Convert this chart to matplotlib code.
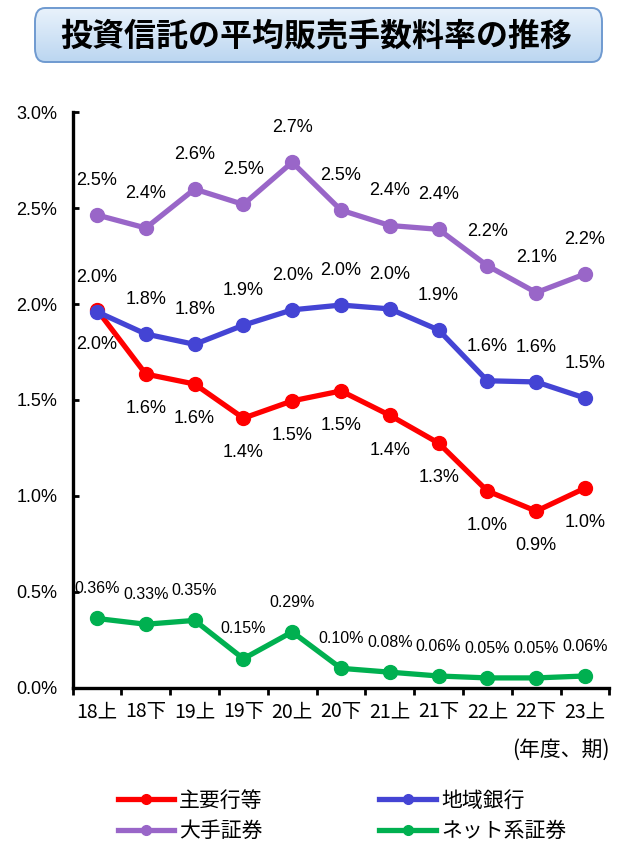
import matplotlib
matplotlib.use("Agg")
import matplotlib.pyplot as plt
from matplotlib.patches import FancyBboxPatch
from matplotlib.lines import Line2D
import numpy as np

plt.rcParams['font.family'] = ['Noto Sans CJK JP', 'DejaVu Sans']

periods = ["18上", "18下", "19上", "19下", "20上", "20下", "21上", "21下", "22上", "22下", "23上"]
major_banks = [1.97, 1.635, 1.583, 1.405, 1.495, 1.547, 1.42, 1.275, 1.025, 0.92, 1.04]
major_labels = ["2.0%", "1.6%", "1.6%", "1.4%", "1.5%", "1.5%", "1.4%", "1.3%", "1.0%", "0.9%", "1.0%"]
regional_banks = [1.96, 1.844, 1.79, 1.89, 1.97, 1.995, 1.975, 1.865, 1.60, 1.594, 1.51]
regional_labels = ["2.0%", "1.8%", "1.8%", "1.9%", "2.0%", "2.0%", "2.0%", "1.9%", "1.6%", "1.6%", "1.5%"]
big_securities = [2.465, 2.397, 2.60, 2.52, 2.74, 2.49, 2.41, 2.39, 2.20, 2.06, 2.157]
big_labels = ["2.5%", "2.4%", "2.6%", "2.5%", "2.7%", "2.5%", "2.4%", "2.4%", "2.2%", "2.1%", "2.2%"]
online_securities = [0.36, 0.33, 0.35, 0.15, 0.29, 0.10, 0.08, 0.06, 0.05, 0.05, 0.06]
online_labels = ["0.36%", "0.33%", "0.35%", "0.15%", "0.29%", "0.10%", "0.08%", "0.06%", "0.05%", "0.05%", "0.06%"]

yticks = [0.0, 0.5, 1.0, 1.5, 2.0, 2.5, 3.0]
ytick_labels = ["0.0%", "0.5%", "1.0%", "1.5%", "2.0%", "2.5%", "3.0%"]

c_red = "#FF0000"
c_blue = "#4444D4"
c_purple = "#9966C8"
c_green = "#00B050"

num_family = ["Liberation Sans Narrow", "Liberation Sans", "DejaVu Sans"]

W, H = 631, 847
fig = plt.figure(figsize=(W / 100, H / 100), dpi=100)

ax = fig.add_axes([72.6 / W, 1 - 687.5 / H, 536.8 / W, 575.1 / H])
x = np.arange(len(periods))

series = [
    (major_banks, c_red, "主要行等"),
    (regional_banks, c_blue, "地域銀行"),
    (big_securities, c_purple, "大手証券"),
    (online_securities, c_green, "ネット系証券"),
]
for vals, col, name in series:
    ax.plot(x, vals, color=col, lw=3.8, marker="o", ms=10, zorder=3, solid_capstyle="round")

ax.set_xlim(-0.5, len(periods) - 0.5)
ax.set_ylim(0, 3.0)

lab_kw = dict(ha="center", va="center", fontsize=13, color="black", family=num_family)
for i in range(len(periods)):
    ax.annotate(big_labels[i], (x[i], big_securities[i]), xytext=(0, 25), textcoords="offset points", **lab_kw)
    ax.annotate(regional_labels[i], (x[i], regional_banks[i]), xytext=(0, 25), textcoords="offset points", **lab_kw)
    ax.annotate(major_labels[i], (x[i], major_banks[i]), xytext=(0, -25), textcoords="offset points", **lab_kw)
    kw = dict(lab_kw)
    kw["fontsize"] = 11.5
    ax.annotate(online_labels[i], (x[i], online_securities[i]), xytext=(0, 21.5), textcoords="offset points", **kw)

for s in ["top", "right"]:
    ax.spines[s].set_visible(False)
ax.spines["left"].set_linewidth(2.4)
ax.spines["bottom"].set_linewidth(2.4)

ax.set_yticks(yticks)
ax.set_yticklabels(ytick_labels, family=num_family, fontsize=13)
ax.tick_params(axis="y", direction="in", length=4, width=2, pad=11)

ax.set_xticks(x)
ax.set_xticklabels(periods, fontsize=14)
ax.tick_params(axis="x", length=0, pad=10)
ax.set_xticks(np.arange(-0.5, len(periods) + 0.5, 1), minor=True)
ax.tick_params(axis="x", which="minor", direction="out", length=5, width=2)

fig.text(610 / W, 1 - 750 / H, "(年度、期)", ha="right", va="center", fontsize=15)

# Title box with vertical gradient
bx0, by0, bw, bh = 35 / W, 1 - 62 / H, (602 - 35) / W, (62 - 8) / H
tax = fig.add_axes([bx0 - 0.005, by0 - 0.005, bw + 0.01, bh + 0.01])
tax.set_axis_off()
rs = 0.016
tb = FancyBboxPatch((bx0, by0), bw, bh, boxstyle=f"round,pad=0,rounding_size={rs}",
                    transform=fig.transFigure, facecolor="none", edgecolor="#6F9AD0", lw=1.4, zorder=3)
grad = np.linspace(0, 1, 256).reshape(-1, 1)
top = np.array([0.93, 0.96, 0.99])
bot = np.array([0.72, 0.83, 0.94])
img = top[None, None, :] * (1 - grad[:, :, None]) + bot[None, None, :] * grad[:, :, None]
im = tax.imshow(img, aspect="auto", extent=[0, 1, 0, 1], transform=tax.transAxes, zorder=1)
clip = FancyBboxPatch((bx0, by0), bw, bh, boxstyle=f"round,pad=0,rounding_size={rs}",
                      transform=fig.transFigure, facecolor="none", edgecolor="none")
tax.add_artist(clip)
im.set_clip_path(clip)
fig.patches.append(tb)
fig.text(316 / W, 1 - 37 / H, "投資信託の平均販売手数料率の推移", ha="center", va="center",
         fontsize=23, fontweight="bold", color="black")

# Legend
handles = [Line2D([0], [0], color=c, lw=3.8, marker="o", ms=7) for _, c, _ in series]
names = [n for _, _, n in series]
order = [0, 2, 1, 3]
leg = fig.legend([handles[i] for i in order], [names[i] for i in order], ncol=2,
                 loc="center", bbox_to_anchor=(342 / W, 1 - 816 / H), frameon=False,
                 fontsize=15, handlelength=2.7, columnspacing=5.6, labelspacing=0.42,
                 handletextpad=0.25)

fig.savefig("out.png", dpi=100, facecolor="white")
